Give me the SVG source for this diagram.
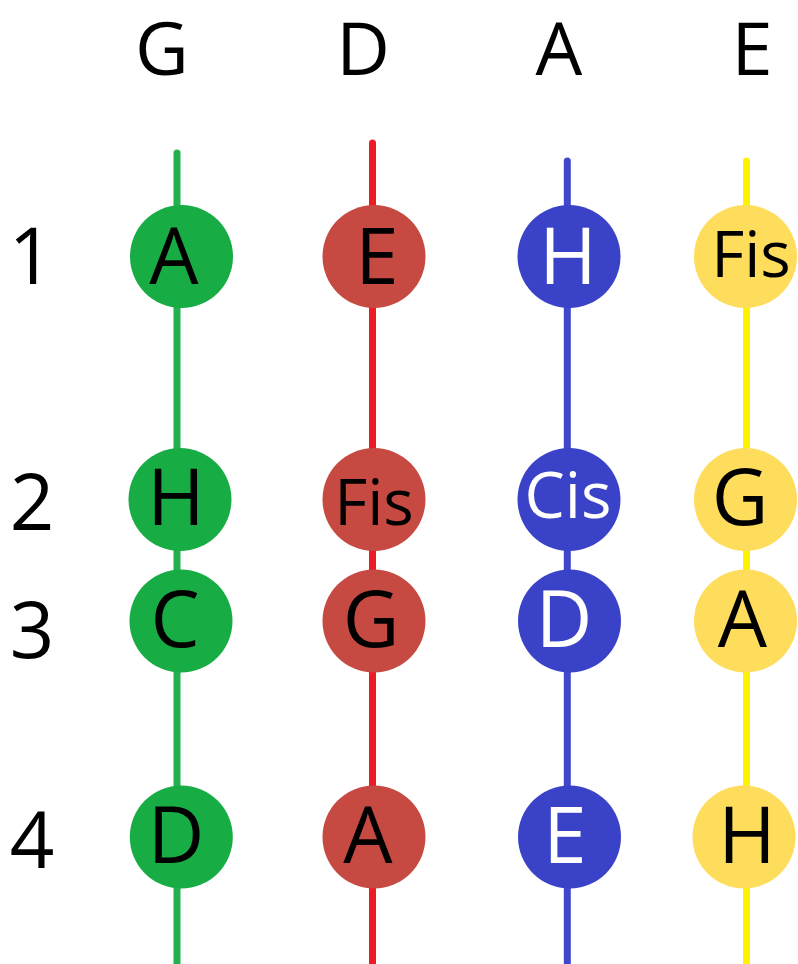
<svg xmlns="http://www.w3.org/2000/svg" width="798" height="964" viewBox="0 0 798 964">
<style>
  .lbl{font-family:"Open Sans","DejaVu Sans",sans-serif;text-anchor:middle;}
  .hdr{font-size:74px;fill:#000;}
  .num{font-size:78px;fill:#000;}
  .big{font-size:78px;}
  .small{font-size:64px;}
  .dark{fill:#000;}
  .light{fill:#fff;}
  .line{stroke-width:7;stroke-linecap:round;fill:none;}
  .cg{fill:#18AC44;} .cr{fill:#C64A42;} .cb{fill:#3A43C8;} .cy{fill:#FFDD5C;}
</style>
<rect width="798" height="964" fill="#fff"/>
<g id="headers">
  <text class="lbl hdr" x="162" y="75">G</text>
  <text class="lbl hdr" x="363" y="75">D</text>
  <text class="lbl hdr" x="559" y="75">A</text>
  <text class="lbl hdr" x="752" y="75">E</text>
</g>
<g id="rows">
  <text class="lbl num" x="31" y="284">1</text>
  <text class="lbl num" x="32" y="530">2</text>
  <text class="lbl num" x="32" y="658">3</text>
  <text class="lbl num" x="32" y="868">4</text>
</g>
<g id="connectors">
  <line class="line" x1="177" y1="153" x2="177" y2="970" stroke="#22B14C"/>
  <line class="line" x1="372.5" y1="143" x2="372.5" y2="970" stroke="#ED1C24"/>
  <line class="line" x1="567.3" y1="161" x2="567.3" y2="970" stroke="#3F48CC"/>
  <line class="line" x1="746.5" y1="161" x2="746.5" y2="970" stroke="#FFF200"/>
</g>
<g id="g1"><circle class="cg" cx="181.5" cy="256.5" r="51.5"/><text class="lbl big dark" x="174" y="284">A</text></g>
<g id="g2"><circle class="cg" cx="180" cy="499.5" r="51.5"/><text class="lbl big dark" x="176" y="525">H</text></g>
<g id="g3"><circle class="cg" cx="181" cy="621" r="51.5"/><text class="lbl big dark" x="175" y="647">C</text></g>
<g id="g4"><circle class="cg" cx="181.3" cy="837" r="51.5"/><text class="lbl big dark" x="176" y="863">D</text></g>
<g id="d1"><circle class="cr" cx="374" cy="256.5" r="51.5"/><text class="lbl big dark" x="377" y="284">E</text></g>
<g id="d2"><circle class="cr" cx="374" cy="499.5" r="51.5"/><text class="lbl small dark" x="374" y="525">Fis</text></g>
<g id="d3"><circle class="cr" cx="374" cy="621" r="51.5"/><text class="lbl big dark" x="371" y="647">G</text></g>
<g id="d4"><circle class="cr" cx="374" cy="837" r="51.5"/><text class="lbl big dark" x="368" y="863">A</text></g>
<g id="a1"><circle class="cb" cx="569" cy="256.5" r="51.5"/><text class="lbl big light" x="568" y="284">H</text></g>
<g id="a2"><circle class="cb" cx="569" cy="499.5" r="51.5"/><text class="lbl small light" x="568" y="518">Cis</text></g>
<g id="a3"><circle class="cb" cx="569.5" cy="621" r="51.5"/><text class="lbl big light" x="564" y="647">D</text></g>
<g id="a4"><circle class="cb" cx="569.5" cy="837" r="51.5"/><text class="lbl big light" x="565" y="863">E</text></g>
<g id="e1"><circle class="cy" cx="745.5" cy="256.5" r="51.5"/><text class="lbl small dark" x="751" y="277">Fis</text></g>
<g id="e2"><circle class="cy" cx="745.5" cy="499.5" r="51.5"/><text class="lbl big dark" x="740" y="525">G</text></g>
<g id="e3"><circle class="cy" cx="745.5" cy="621" r="51.5"/><text class="lbl big dark" x="742.5" y="647">A</text></g>
<g id="e4"><circle class="cy" cx="744" cy="837" r="51.5"/><text class="lbl big dark" x="747" y="863">H</text></g>
</svg>
